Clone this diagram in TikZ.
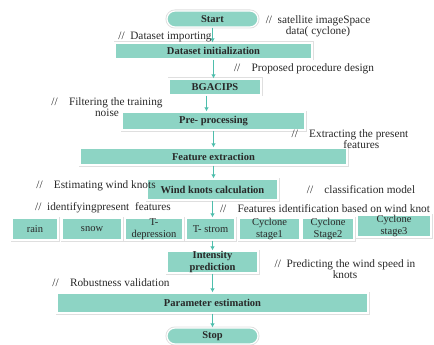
\documentclass[tikz,border=0pt]{standalone}
\usepackage{fontspec}
\setmainfont{Liberation Serif}
\usetikzlibrary{arrows.meta}
\definecolor{boxc}{RGB}{141,212,196}
\definecolor{arrc}{RGB}{78,190,172}
\definecolor{txtc}{RGB}{40,40,40}
\begin{document}
\begin{tikzpicture}[x=1pt,y=-1pt,
  box/.style={preaction={draw=gray!25,line width=3pt}, fill=boxc, draw=white, line width=1.2pt,
    inner sep=0pt, align=center, text=txtc, font=\fontsize{10.5}{12}\selectfont\bfseries},
  cat/.style={box, font=\fontsize{10.5}{11.5}\selectfont},
  term/.style={box, rounded corners=8pt},
  note/.style={inner sep=0pt, align=center, text=txtc, font=\fontsize{11.3}{11}\selectfont},
  arr/.style={draw=arrc, line width=1pt, -{Latex[length=4pt,width=4.5pt]}}]
\useasboundingbox (0,0) rectangle (434,345);
% main boxes
\node[term, minimum width=91pt, minimum height=16pt] (start) at (212.5,19) {Start};
\node[box, minimum width=197pt, minimum height=16pt] (init) at (213.5,51) {Dataset initialization};
\node[box, minimum width=92pt, minimum height=16pt] (bga) at (215,87) {BGACIPS};
\node[box, minimum width=183pt, minimum height=18pt] (pre) at (213.5,121) {Pre- processing};
\node[box, minimum width=267pt, minimum height=17pt] (feat) at (213.5,156.5) {Feature extraction};
\node[box, minimum width=131pt, minimum height=21pt] (wind) at (212.5,189.5) {Wind knots calculation};
% categories
\node[cat, minimum width=46pt, minimum height=22pt] (rain) at (35,229) {rain};
\node[cat, minimum width=60pt, minimum height=22pt] (snow) at (92,229) {snow};
\node[cat, minimum width=58pt, minimum height=22pt] (tdep) at (154,229) {T-\\depression};
\node[cat, minimum width=49pt, minimum height=22pt] (tstrom) at (210.5,229) {T- strom};
\node[cat, minimum width=61pt, minimum height=22pt] (cs1) at (269.5,229) {Cyclone\\stage1};
\node[cat, minimum width=52pt, minimum height=22pt] (cs2) at (328,229) {Cyclone\\Stage2};
\node[cat, minimum width=74pt, minimum height=22pt] (cs3) at (394,226) {Cyclone\\stage3};
% lower boxes
\node[box, minimum width=91pt, minimum height=22pt, font=\fontsize{10.5}{11.5}\selectfont\bfseries] (inten) at (212.5,262) {Intensity\\prediction};
\node[box, minimum width=311pt, minimum height=20pt] (param) at (212.5,303) {Parameter estimation};
\node[term, minimum width=91pt, minimum height=16pt] (stop) at (212.5,336) {Stop};
% connectors
\draw[arr] (start.south) -- (start.south |- init.north);
\draw[arr] (init.south) -- (init.south |- bga.north);
\draw[arr] (bga.south -| pre.north) ++(-7,0) coordinate (b1) -- (b1 |- pre.north);
\draw[arr] (pre.south) -- (pre.south |- feat.north);
\draw[arr] (feat.south) -- (feat.south |- wind.north);
\draw[arr] (wind.south) -- (wind.south |- tstrom.north);
\draw[arr] (wind.south |- tstrom.south) coordinate (t1) -- (t1 |- inten.north);
\draw[arr] (inten.south) -- (inten.south |- param.north);
\draw[arr] (param.south) -- (param.south |- stop.north);
% notes
\node[note] (n1) at (318,26.5) {//\enspace satellite imageSpace\\data( cyclone)};
\node[note] (n2) at (165,37) {//\enspace Dataset importing};
\node[note] (n3) at (304,69) {//\quad Proposed procedure design};
\node[note] (n4) at (107,107.5) {//\quad Filtering the training\\noise};
\node[note] (n5) at (350,139) {//\quad Extracting the present\\\hspace*{2em}features};
\node[note] (n6) at (96,186) {//\quad Estimating wind knots};
\node[note] (n7) at (361,190) {//\quad classification model};
\node[note] (n8) at (103,208) {//\enspace identifyingpresent\enspace features};
\node[note] (n9) at (325,209) {//\quad Features identification based on wind knot};
\node[note] (n10) at (345,269.5) {//\enspace Predicting the wind speed in\\knots};
\node[note] (n11) at (111,283) {//\quad Robustness validation};
\end{tikzpicture}
\end{document}
